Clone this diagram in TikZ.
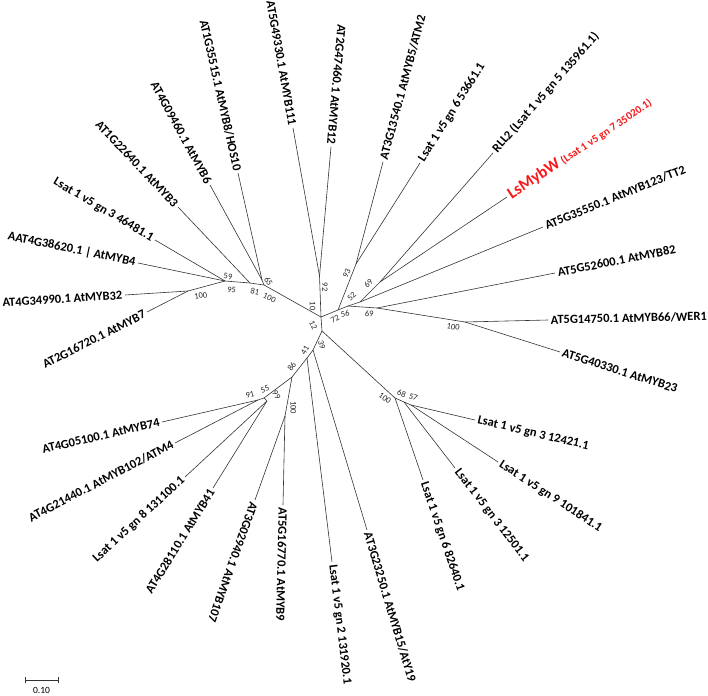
\documentclass[tikz,border=0pt]{standalone}
\usepackage{fontspec}
\setmainfont{Carlito}
\begin{document}
\begin{tikzpicture}[x=1pt,y=-1pt,
  edge/.style={line width=0.6pt, draw=black!80},
  leafR/.style={pos=1, sloped, allow upside down, anchor=west, inner sep=2.5pt, font=\fontsize{12.5}{14}\selectfont\bfseries},
  leafL/.style={pos=0, sloped, allow upside down, anchor=east, inner sep=2.5pt, font=\fontsize{12.5}{14}\selectfont\bfseries},
  boot/.style={font=\fontsize{8.5}{9}\selectfont, inner sep=0pt, text=black!85}]
\useasboundingbox (0,0) rectangle (708,695);
% internal nodes
\coordinate (C) at (321,317);
\coordinate (n92) at (319.5,276);
\coordinate (L1) at (264,285);
\coordinate (Y) at (262,280);
\coordinate (n81) at (250,283);
\coordinate (n59) at (225,281);
\coordinate (n100l) at (188,291);
\coordinate (R1) at (338,310);
\coordinate (n93) at (356,264);
\coordinate (R2) at (348,306);
\coordinate (n52) at (360,302);
\coordinate (n69a) at (380,282);
\coordinate (n69b) at (377,308);
\coordinate (n100r) at (465,322);
\coordinate (D1) at (322,331);
\coordinate (n100c) at (395,398);
\coordinate (n68) at (404,402);
\coordinate (n57) at (411,405);
\coordinate (D2) at (313,350);
\coordinate (D2b) at (307,358);
\coordinate (D3) at (292,377);
\coordinate (n100b) at (285,416);
\coordinate (D4) at (264,398);
\coordinate (D5) at (258,400);
\coordinate (D6) at (267,401);
% leaves
\coordinate (lMYB111) at (293,128);
\coordinate (lMYB12) at (331,147);
\coordinate (lMYB5) at (383,162);
\coordinate (lLs53661) at (420,163);
\coordinate (lRLL2) at (493,153);
\coordinate (lMybW) at (507,197);
\coordinate (lTT2) at (543,227);
\coordinate (lMYB82) at (555,273);
\coordinate (lMYB66) at (548,320);
\coordinate (lMYB23) at (560,352);
\coordinate (lLs12421) at (475,420);
\coordinate (lLs101841) at (498,462);
\coordinate (lLs12501) at (455,468);
\coordinate (lLs82640) at (423,480);
\coordinate (lMYB15) at (367,530);
\coordinate (lLs131920) at (332,562);
\coordinate (lMYB9) at (283,505);
\coordinate (lMYB107) at (255,500);
\coordinate (lMYB41) at (213,488);
\coordinate (lLs131100) at (185,477);
\coordinate (lMYB102) at (175,443);
\coordinate (lMYB74) at (162,422);
\coordinate (lMYB7) at (147,312);
\coordinate (lMYB32) at (125,295);
\coordinate (lMYB4) at (138,263);
\coordinate (lLs46481) at (155,240);
\coordinate (lMYB3) at (178,207);
\coordinate (lMYB6) at (210,185);
\coordinate (lMYB8) at (238,173);
% internal edges
\draw[edge] (C) -- (n92);
\draw[edge] (C) -- (L1);
\draw[edge] (L1) -- (Y);
\draw[edge] (L1) -- (n81);
\draw[edge] (n81) -- (n59);
\draw[edge] (n59) -- (n100l);
\draw[edge] (C) -- (R1);
\draw[edge] (R1) -- (n93);
\draw[edge] (R1) -- (R2);
\draw[edge] (R2) -- (n52);
\draw[edge] (n52) -- (n69a);
\draw[edge] (R2) -- (n69b);
\draw[edge] (n69b) -- (n100r);
\draw[edge] (C) -- (D1);
\draw[edge] (D1) -- (n100c);
\draw[edge] (n100c) -- (n68);
\draw[edge] (n68) -- (n57);
\draw[edge] (D1) -- (D2);
\draw[edge] (D2) -- (D2b);
\draw[edge] (D2b) -- (D3);
\draw[edge] (D3) -- (n100b);
\draw[edge] (D3) -- (D4);
\draw[edge] (D4) -- (D5);
\draw[edge] (D4) -- (D6);
% leaf edges with labels
\draw[edge] (lMYB111) -- (n92) node[leafL] (tMYB111) {AT5G49330.1 AtMYB111};
\draw[edge] (lMYB12) -- (n92) node[leafL] (tMYB12) {AT2G47460.1 AtMYB12};
\draw[edge] (n93) -- (lMYB5) node[leafR] (tMYB5) {AT3G13540.1 AtMYB5/ATM2};
\draw[edge] (n93) -- (lLs53661) node[leafR] (tLs53661) {Lsat 1 v5 gn 6 53661.1};
\draw[edge] (n69a) -- (lRLL2) node[leafR] (tRLL2) {RLL2 (Lsat 1 v5 gn 5 135961.1)};
\draw[edge] (n69a) -- (lMybW) node[leafR, text={rgb,255:red,245;green,25;blue,25}] (tMybW) {{\fontsize{16.5}{18}\selectfont LsMybW} {\fontsize{11}{12}\selectfont (Lsat 1 v5 gn 7 35020.1)}};
\draw[edge] (n52) -- (lTT2) node[leafR] (tTT2) {AT5G35550.1 AtMYB123/TT2};
\draw[edge] (n69b) -- (lMYB82) node[leafR] (tMYB82) {AT5G52600.1 AtMYB82};
\draw[edge] (n100r) -- (lMYB66) node[leafR] (tMYB66) {AT5G14750.1 AtMYB66/WER1};
\draw[edge] (n100r) -- (lMYB23) node[leafR] (tMYB23) {AT5G40330.1 AtMYB23};
\draw[edge] (n57) -- (lLs12421) node[leafR] (tLs12421) {Lsat 1 v5 gn 3 12421.1};
\draw[edge] (n57) -- (lLs101841) node[leafR] (tLs101841) {Lsat 1 v5 gn 9 101841.1};
\draw[edge] (n68) -- (lLs12501) node[leafR] (tLs12501) {Lsat 1 v5 gn 3 12501.1};
\draw[edge] (n100c) -- (lLs82640) node[leafR] (tLs82640) {Lsat 1 v5 gn 6 82640.1};
\draw[edge] (D2) -- (lMYB15) node[leafR] (tMYB15) {AT3G23250.1 AtMYB15/AtY19};
\draw[edge] (D2b) -- (lLs131920) node[leafR] (tLs131920) {Lsat 1 v5 gn 2 131920.1};
\draw[edge] (n100b) -- (lMYB9) node[leafR] (tMYB9) {AT5G16770.1 AtMYB9};
\draw[edge] (n100b) -- (lMYB107) node[leafR] (tMYB107) {AT3G02940.1 AtMYB107};
\draw[edge] (lMYB41) -- (D6) node[leafL] (tMYB41) {AT4G28110.1 AtMYB41};
\draw[edge] (lLs131100) -- (D6) node[leafL] (tLs131100) {Lsat 1 v5 gn 8 131100.1};
\draw[edge] (lMYB102) -- (D5) node[leafL] (tMYB102) {AT4G21440.1 AtMYB102/ATM4};
\draw[edge] (lMYB74) -- (D5) node[leafL] (tMYB74) {AT4G05100.1 AtMYB74};
\draw[edge] (lMYB7) -- (n100l) node[leafL] (tMYB7) {AT2G16720.1 AtMYB7};
\draw[edge] (lMYB32) -- (n100l) node[leafL] (tMYB32) {AT4G34990.1 AtMYB32};
\draw[edge] (lMYB4) -- (n59) node[leafL] (tMYB4) {AAT4G38620.1 | AtMYB4};
\draw[edge] (lLs46481) -- (n59) node[leafL] (tLs46481) {Lsat 1 v5 gn 3 46481.1};
\draw[edge] (lMYB3) -- (n81) node[leafL] (tMYB3) {AT1G22640.1 AtMYB3};
\draw[edge] (lMYB6) -- (Y) node[leafL] (tMYB6) {AT4G09460.1 AtMYB6};
\draw[edge] (lMYB8) -- (Y) node[leafL] (tMYB8) {AT1G35515.1 AtMYB8/HOS10};
% bootstrap values
\node[boot, rotate=-5] (b59) at (228,276.5) {59};
\node[boot, rotate=-5] (b95) at (231.7,290) {95};
\node[boot, rotate=-12] (b81) at (255,291.5) {81};
\node[boot, rotate=-25] (b100a) at (269.5,298) {100};
\node[boot, rotate=-60] (b65) at (268.5,281.5) {65};
\node[boot, rotate=10] (b100b) at (200.7,295.7) {100};
\node[boot, rotate=-90] (b10) at (312.7,306) {10};
\node[boot, rotate=-90] (b92) at (325,287) {92};
\node[boot, rotate=65] (b93) at (346.7,273.3) {93};
\node[boot, rotate=45] (b52) at (351.7,296.7) {52};
\node[boot, rotate=45] (b69a) at (368.3,283.3) {69};
\node[boot, rotate=30] (b72) at (335,319.3) {72};
\node[boot, rotate=10] (b56) at (345,314) {56};
\node[boot, rotate=-3] (b69b) at (369.3,314) {69};
\node[boot, rotate=-10] (b100c) at (453.3,326.7) {100};
\node[boot, rotate=-65] (b12) at (313.3,325.5) {12};
\node[boot, rotate=-75] (b39) at (321.7,345) {39};
\node[boot, rotate=60] (b41) at (305,350) {41};
\node[boot, rotate=55] (b86) at (291.7,366.7) {86};
\node[boot, rotate=20] (b55) at (265,389.3) {55};
\node[boot, rotate=15] (b91) at (250,395) {91};
\node[boot, rotate=-60] (b99) at (276.5,395) {99};
\node[boot, rotate=-90] (b100d) at (293.3,407.5) {100};
\node[boot, rotate=-35] (b100e) at (385,398.3) {100};
\node[boot, rotate=-20] (b68) at (401.7,393.3) {68};
\node[boot, rotate=-20] (b57) at (413.3,397.3) {57};
% scale bar
\coordinate (sbL) at (25,680);
\coordinate (sbR) at (58,680);
\draw[edge] (sbL) -- (sbR);
\draw[edge] ([yshift=3pt]sbL) -- ([yshift=-3pt]sbL);
\draw[edge] ([yshift=3pt]sbR) -- ([yshift=-3pt]sbR);
\node[font=\fontsize{9.5}{10}\selectfont, inner sep=0pt] (sbT) at (41.5,690) {0.10};
\end{tikzpicture}
\end{document}
